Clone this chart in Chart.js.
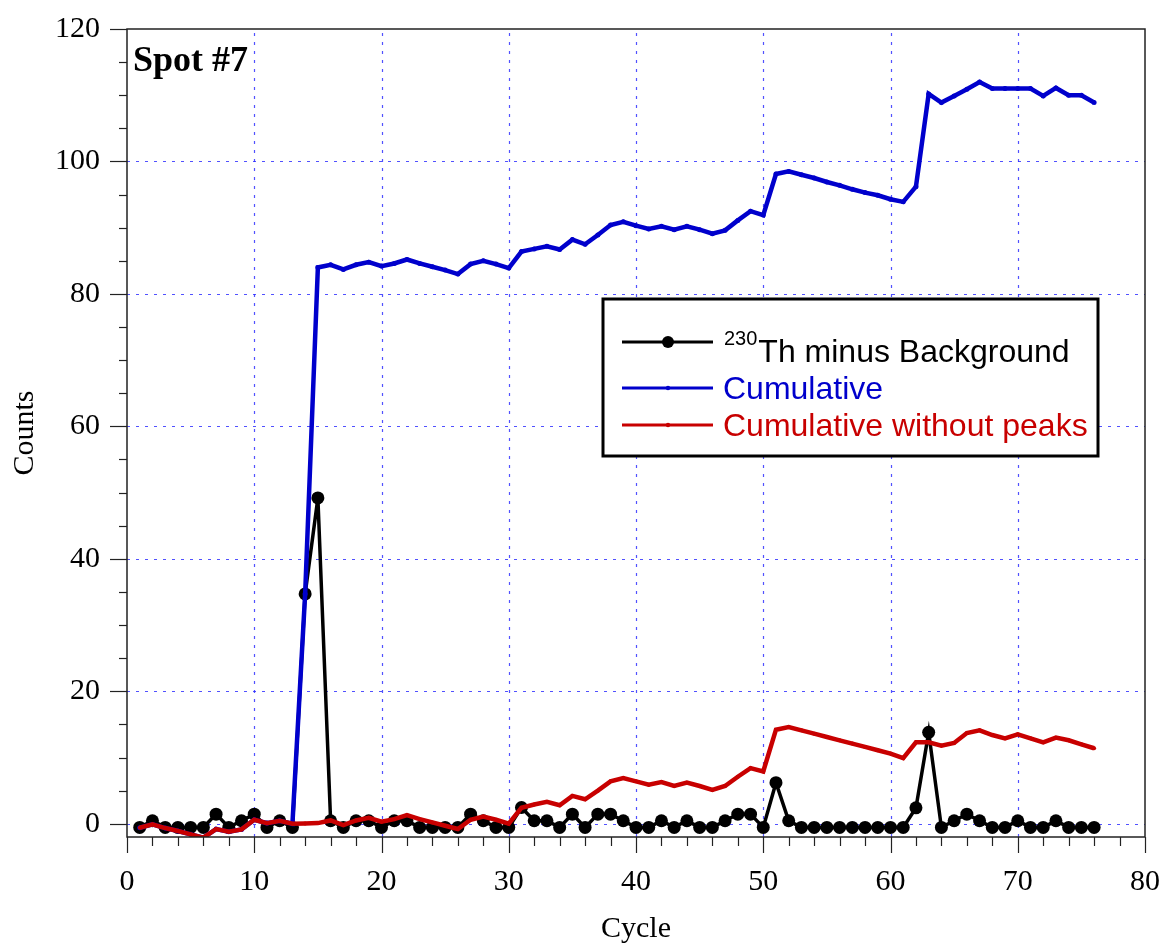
<!DOCTYPE html>
<html>
<head>
<meta charset="utf-8">
<script src="https://cdn.jsdelivr.net/npm/chart.js@4.4.0/dist/chart.umd.min.js"></script>
<style>
  html, body { margin: 0; padding: 0; background: #fff; overflow: hidden; }
  #wrap { position: absolute; left: 0; top: 0; width: 1160px; height: 944px; }
</style>
</head>
<body>
<div id="wrap"><canvas id="c" width="1160" height="944"></canvas></div>
<script>
// Measurement cycles
const cycles = [1, 2, 3, 4, 5, 6, 7, 8, 9, 10, 11, 12, 13, 14, 15, 16, 17, 18, 19, 20,
  21, 22, 23, 24, 25, 26, 27, 28, 29, 30, 31, 32, 33, 34, 35, 36, 37, 38, 39, 40,
  41, 42, 43, 44, 45, 46, 47, 48, 49, 50, 51, 52, 53, 54, 55, 56, 57, 58, 59, 60,
  61, 62, 63, 64, 65, 66, 67, 68, 69, 70, 71, 72, 73, 74, 75, 76];

// 230Th counts per cycle after background subtraction
const thMinusBackground = [-0.55, 0.45, -0.55, -0.55, -0.55, -0.55, 1.45, -0.55, 0.45, 1.45,
  -0.55, 0.45, -0.55, 34.7, 49.2, 0.45, -0.55, 0.45, 0.45, -0.55,
  0.45, 0.45, -0.55, -0.55, -0.55, -0.55, 1.45, 0.45, -0.55, -0.55,
  2.45, 0.45, 0.45, -0.55, 1.45, -0.55, 1.45, 1.45, 0.45, -0.55,
  -0.55, 0.45, -0.55, 0.45, -0.55, -0.55, 0.45, 1.45, 1.45, -0.55,
  6.2, 0.45, -0.55, -0.55, -0.55, -0.55, -0.55, -0.55, -0.55, -0.55,
  -0.55, 2.4, 13.8, -0.55, 0.45, 1.45, 0.45, -0.55, -0.55, 0.45,
  -0.55, -0.55, 0.45, -0.55, -0.55, -0.55];

// Running total of all counts
const cumulative = [-0.6, -0.1, -0.65, -1.1, -1.6, -2.1, -0.8, -1.2, -0.85, 0.6,
  0.1, 0.45, 0.0, 34.7, 84.0, 84.4, 83.7, 84.4, 84.8, 84.2,
  84.6, 85.2, 84.6, 84.1, 83.6, 83.0, 84.5, 85.0, 84.5, 83.9,
  86.4, 86.8, 87.2, 86.7, 88.2, 87.5, 88.9, 90.4, 90.9, 90.3,
  89.8, 90.2, 89.7, 90.2, 89.7, 89.1, 89.6, 91.1, 92.5, 91.9,
  98.1, 98.5, 98.0, 97.5, 96.9, 96.4, 95.8, 95.3, 94.9, 94.3,
  93.9, 96.2, 110.2, 108.9, 109.9, 110.9, 112.0, 111.0, 111.0, 111.0,
  111.0, 109.9, 111.1, 110.0, 110.0, 108.9];

// Running total with the large peaks left out
const cumulativeWithoutPeaks = [-0.6, -0.1, -0.65, -1.1, -1.6, -2.1, -0.8, -1.2, -0.85, 0.6,
  0.1, 0.45, 0.0, 0.05, 0.1, 0.5, -0.2, 0.5, 0.9, 0.3,
  0.7, 1.3, 0.7, 0.2, -0.3, -0.8, 0.6, 1.1, 0.6, 0.0,
  2.4, 2.9, 3.3, 2.8, 4.2, 3.7, 5.0, 6.4, 6.9, 6.4,
  5.9, 6.3, 5.7, 6.2, 5.7, 5.1, 5.7, 7.1, 8.4, 7.9,
  14.2, 14.6, 14.1, 13.6, 13.1, 12.6, 12.1, 11.6, 11.1, 10.6,
  9.9, 12.3, 12.3, 11.8, 12.2, 13.7, 14.1, 13.4, 12.9, 13.5,
  12.9, 12.3, 13.0, 12.6, 12.0, 11.4];

// Axis tick labels
const xTickLabels = ['0', '10', '20', '30', '40', '50', '60', '70', '80'];
const yTickLabels = ['0', '20', '40', '60', '80', '100', '120'];

const BLACK = '#000000';
const BLUE = '#0000cc';
const RED = '#c80000';
const SERIF = '"Liberation Serif", "Times New Roman", serif';
const SANS = '"Liberation Sans", Arial, sans-serif';

const toPoints = (ys) => cycles.map((c, i) => ({ x: c, y: ys[i] }));

// Dotted grid, frame, tick marks, spot label and legend box
const decorations = {
  id: 'decorations',
  beforeDatasetsDraw(chart) {
    const { ctx, chartArea: a, scales: { x, y } } = chart;
    ctx.save();
    ctx.strokeStyle = 'rgba(50,50,255,0.85)';
    ctx.lineWidth = 1.2;
    ctx.setLineDash([3, 6]);
    x.ticks.forEach(t => {
      if (t.value <= x.min || t.value >= x.max) return;
      const px = Math.round(x.getPixelForValue(t.value)) + 0.5;
      ctx.beginPath(); ctx.moveTo(px, a.bottom); ctx.lineTo(px, a.top); ctx.stroke();
    });
    y.ticks.forEach(t => {
      if (t.value <= y.min || t.value >= y.max) return;
      const py = Math.round(y.getPixelForValue(t.value)) + 0.5;
      ctx.beginPath(); ctx.moveTo(a.left, py); ctx.lineTo(a.right, py); ctx.stroke();
    });
    ctx.restore();
  },
  afterDatasetsDraw(chart) {
    const { ctx, chartArea: a, scales: { x, y } } = chart;
    ctx.save();
    ctx.setLineDash([]);
    ctx.strokeStyle = '#222';
    ctx.lineWidth = 1.5;
    ctx.strokeRect(a.left, a.top, a.right - a.left, a.bottom - a.top);

    // tick marks on the left and bottom axes
    ctx.lineWidth = 1.2;
    for (let v = 0; v <= x.max; v += 2) {
      const px = Math.round(x.getPixelForValue(v)) + 0.5;
      const len = v % 10 === 0 ? 16 : 9;
      ctx.beginPath(); ctx.moveTo(px, a.bottom); ctx.lineTo(px, a.bottom + len); ctx.stroke();
    }
    for (let v = 0; v <= y.max; v += 5) {
      const py = Math.round(y.getPixelForValue(v)) + 0.5;
      const len = v % 20 === 0 ? 17 : 8;
      ctx.beginPath(); ctx.moveTo(a.left, py); ctx.lineTo(a.left - len, py); ctx.stroke();
    }

    // spot label
    ctx.fillStyle = BLACK;
    ctx.font = 'bold 36px ' + SERIF;
    ctx.textAlign = 'left';
    ctx.textBaseline = 'alphabetic';
    ctx.fillText('Spot #7', a.left + 6, 71);

    // legend
    const bx = 603, by = 299, bw = 495, bh = 157;
    ctx.fillStyle = '#fff';
    ctx.fillRect(bx, by, bw, bh);
    ctx.strokeStyle = BLACK;
    ctx.lineWidth = 3;
    ctx.strokeRect(bx, by, bw, bh);

    const rows = [
      { color: BLACK, lineY: 342, base: 362, r: 6, lw: 3 },
      { color: BLUE, lineY: 388, base: 399, r: 2.2, lw: 3 },
      { color: RED, lineY: 425, base: 436, r: 2.2, lw: 3 }
    ];
    rows.forEach(row => {
      ctx.strokeStyle = row.color;
      ctx.lineWidth = row.lw;
      ctx.beginPath(); ctx.moveTo(622, row.lineY); ctx.lineTo(713, row.lineY); ctx.stroke();
      ctx.fillStyle = row.color;
      ctx.beginPath(); ctx.arc(668, row.lineY, row.r, 0, Math.PI * 2); ctx.fill();
    });
    ctx.fillStyle = BLACK;
    ctx.font = '20px ' + SANS;
    ctx.fillText('230', 724, 345);
    const supW = ctx.measureText('230').width;
    ctx.font = '32px ' + SANS;
    ctx.fillText('Th minus Background', 724 + supW + 1, rows[0].base);
    ctx.fillStyle = BLUE;
    ctx.fillText('Cumulative', 723, rows[1].base);
    ctx.fillStyle = RED;
    ctx.fillText('Cumulative without peaks', 723, rows[2].base);
    ctx.restore();
  }
};

new Chart(document.getElementById('c'), {
  type: 'line',
  data: {
    datasets: [
      {
        label: '230Th minus Background',
        data: toPoints(thMinusBackground),
        borderColor: BLACK,
        backgroundColor: BLACK,
        borderWidth: 3.5,
        pointRadius: 6.5,
        pointBorderWidth: 0,
        pointBackgroundColor: BLACK,
        tension: 0,
        order: 3
      },
      {
        label: 'Cumulative',
        data: toPoints(cumulative),
        borderColor: BLUE,
        backgroundColor: BLUE,
        borderWidth: 4.5,
        pointRadius: 2.5,
        pointBorderWidth: 0,
        pointBackgroundColor: BLUE,
        tension: 0,
        order: 2
      },
      {
        label: 'Cumulative without peaks',
        data: toPoints(cumulativeWithoutPeaks),
        borderColor: RED,
        backgroundColor: RED,
        borderWidth: 4.5,
        pointRadius: 2,
        pointBorderWidth: 0,
        pointBackgroundColor: RED,
        tension: 0,
        order: 1
      }
    ]
  },
  options: {
    responsive: false,
    animation: false,
    devicePixelRatio: 1,
    layout: { padding: { left: 0, right: 15, top: 29, bottom: 0 } },
    plugins: { legend: { display: false }, tooltip: { enabled: false } },
    scales: {
      x: {
        type: 'linear',
        min: 0,
        max: 80,
        afterFit: (s) => { s.height = 107; s.paddingLeft = 0; s.paddingRight = 0; },
        afterBuildTicks: (s) => { s.ticks = xTickLabels.map(v => ({ value: Number(v) })); },
        ticks: {
          padding: 27,
          color: BLACK,
          font: { family: SERIF, size: 30 },
          maxRotation: 0,
          callback: (v) => String(v)
        },
        grid: { display: false, drawTicks: false, tickLength: 0 },
        border: { display: false },
        title: {
          display: true,
          text: 'Cycle',
          color: BLACK,
          font: { family: SERIF, size: 30, lineHeight: 1 },
          padding: { top: 0, bottom: 0 }
        }
      },
      y: {
        type: 'linear',
        min: -2,
        max: 120,
        afterFit: (s) => { s.width = 127; s.paddingTop = 0; s.paddingBottom = 0; },
        afterBuildTicks: (s) => { s.ticks = yTickLabels.map(v => ({ value: Number(v) })); },
        ticks: {
          padding: 27,
          color: BLACK,
          font: { family: SERIF, size: 30 },
          callback: (v) => String(v)
        },
        grid: { display: false, drawTicks: false, tickLength: 0 },
        border: { display: false },
        title: {
          display: true,
          text: 'Counts',
          color: BLACK,
          font: { family: SERIF, size: 30, lineHeight: 1 },
          padding: { top: 10, bottom: 0 }
        }
      }
    }
  },
  plugins: [decorations]
});
</script>
</body>
</html>
